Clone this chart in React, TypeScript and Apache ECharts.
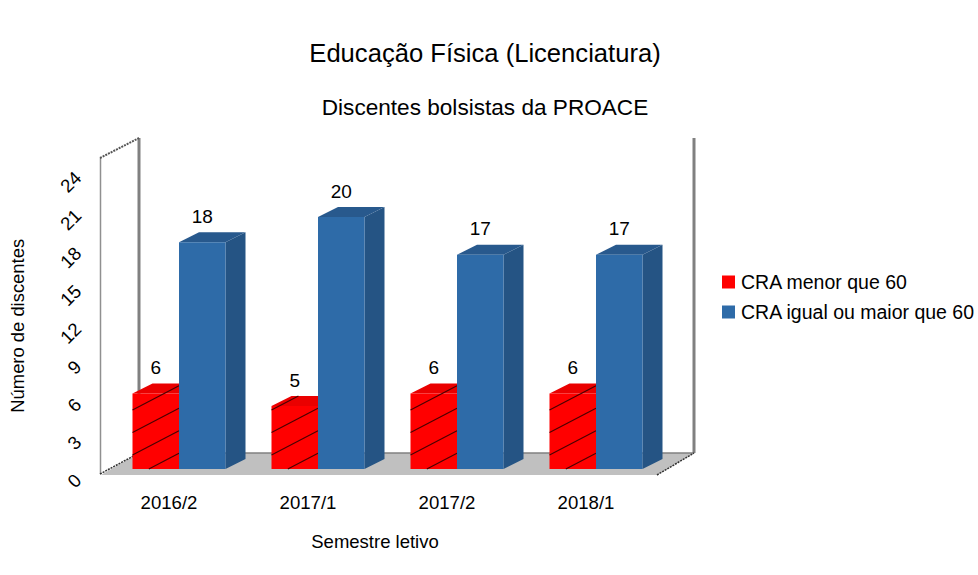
import React, { useEffect, useRef } from "react";
import * as echarts from "echarts";

const titleText = "Educação Física (Licenciatura)";
const subtitleText = "Discentes bolsistas da PROACE";
const categories = ["2016/2", "2017/1", "2017/2", "2018/1"];
const lowSeriesName = "CRA menor que 60";
const highSeriesName = "CRA igual ou maior que 60";
const lowValues = [6, 5, 6, 6];
const highValues = [18, 20, 17, 17];
const yTicks = { min: 0, max: 24, interval: 3 };
const xName = "Semestre letivo";
const yName = "Número de discentes";

const FONT = "Liberation Sans";
const DEPTH_X = 20;
const DEPTH_Y = 10;
const BAR_RATIO = 46.5 / 139;

function hatchLines(x0: number, x1: number, top: number, bottom: number) {
  const slope = 0.52;
  const limit = top - DEPTH_Y;
  const out: any[] = [];
  for (let k = -1; k < 10; k++) {
    const yl = bottom - 14 - 22.5 * k;
    if (yl < top) continue;
    let sx = x0;
    let sy = yl;
    let ex = x1;
    let ey = yl - slope * (x1 - x0);
    if (sy > bottom) {
      sx = x0 + (sy - bottom) / slope;
      sy = bottom;
    }
    if (ey < limit) {
      ex = x0 + (yl - limit) / slope;
      ey = limit;
    }
    out.push({
      type: "line",
      z2: 3,
      shape: { x1: sx, y1: sy, x2: ex, y2: ey },
      style: { stroke: "#4a0000", lineWidth: 1.2, fill: "none" },
      silent: true,
    });
  }
  return out;
}

function makeRender(side: -1 | 1, front: string, sideCol: string, topCol: string, hatch: boolean) {
  return (params: any, api: any) => {
    const i = api.value(0);
    const v = api.value(1);
    const base = api.coord([i, 0]);
    const head = api.coord([i, v]);
    const w = api.size([1, 0])[0] * BAR_RATIO;
    const x0 = side < 0 ? base[0] - w : base[0];
    const x1 = x0 + w;
    const yTop = head[1];
    const yBot = base[1];
    const children: any[] = [
      {
        type: "polygon",
        z2: 1,
        shape: {
          points: [
            [x1, yBot],
            [x1 + DEPTH_X, yBot - DEPTH_Y],
            [x1 + DEPTH_X, yTop - DEPTH_Y],
            [x1, yTop],
          ],
        },
        style: { fill: sideCol },
      },
      {
        type: "polygon",
        z2: 1,
        shape: {
          points: [
            [x0, yTop],
            [x0 + DEPTH_X, yTop - DEPTH_Y],
            [x1 + DEPTH_X, yTop - DEPTH_Y],
            [x1, yTop],
          ],
        },
        style: { fill: topCol },
      },
      {
        type: "rect",
        z2: 2,
        shape: { x: x0, y: yTop, width: w, height: yBot - yTop },
        style: { fill: front },
      },
      {
        type: "text",
        z2: 5,
        x: (x0 + x1) / 2,
        y: yTop - 26,
        style: {
          text: String(v),
          fill: "#000",
          font: `19px "${FONT}"`,
          align: "center",
          verticalAlign: "middle",
        },
      },
    ];
    if (hatch) children.push(...hatchLines(x0, x1, yTop, yBot));
    return { type: "group", children };
  };
}

export default function App() {
  const ref = useRef<HTMLDivElement>(null);
  useEffect(() => {
    const chart = echarts.init(ref.current!, null, { renderer: "svg" });
    chart.setOption({
      animation: false,
      backgroundColor: "#fff",
      textStyle: { fontFamily: FONT },
      title: [
        {
          text: titleText,
          left: 480,
          top: 35,
          textAlign: "center",
          textStyle: { fontFamily: FONT, fontSize: 25.6, fontWeight: "normal", color: "#000" },
        },
        {
          text: subtitleText,
          left: 480,
          top: 91,
          textAlign: "center",
          textStyle: { fontFamily: FONT, fontSize: 22.6, fontWeight: "normal", color: "#000" },
        },
      ],
      legend: {
        orient: "vertical",
        left: 722,
        top: 272,
        padding: 0,
        itemWidth: 13,
        itemHeight: 13,
        itemGap: 10,
        itemStyle: { borderWidth: 0 },
        icon: "rect",
        selectedMode: false,
        data: [lowSeriesName, highSeriesName],
        textStyle: { fontFamily: FONT, fontSize: 19.5, color: "#000", padding: [0, 0, 0, 1] },
      },
      grid: [
        { left: 109.5, width: 556, top: 166.6, height: 302.4 },
        { left: 92, width: 556, top: 174.6, height: 302.4 },
      ],
      xAxis: [
        {
          type: "category",
          gridIndex: 0,
          data: categories,
          axisLine: { show: false },
          axisTick: { show: false },
          axisLabel: {
            fontFamily: FONT,
            fontSize: 18.6,
            color: "#000",
            margin: 24,
            padding: [0, 20, 0, 0],
          },
          name: xName,
          nameLocation: "middle",
          nameGap: 63,
          nameTextStyle: { fontFamily: FONT, fontSize: 18.5, color: "#000", padding: [0, 25, 0, 0] },
        },
        { type: "category", gridIndex: 1, data: categories, show: false },
      ],
      yAxis: [
        { type: "value", gridIndex: 0, min: yTicks.min, max: yTicks.max, interval: yTicks.interval, show: false },
        {
          type: "value",
          gridIndex: 1,
          min: yTicks.min,
          max: yTicks.max,
          interval: yTicks.interval,
          axisLine: { show: false },
          axisTick: { show: false },
          splitLine: { show: false },
          axisLabel: { fontFamily: FONT, fontSize: 18.6, color: "#000", rotate: 45, margin: 22 },
          name: yName,
          nameLocation: "middle",
          nameGap: 74,
          nameTextStyle: { fontFamily: FONT, fontSize: 18.4, color: "#000" },
        },
      ],
      graphic: [
        {
          type: "polygon",
          z: 0,
          shape: { points: [[139, 453], [694, 453], [657, 475], [101, 475]] },
          style: { fill: "#c0c0c0" },
        },
        { type: "line", z: 0, shape: { x1: 139, y1: 138, x2: 139, y2: 453 }, style: { stroke: "#808080", lineWidth: 3 } },
        { type: "line", z: 0, shape: { x1: 694, y1: 138, x2: 694, y2: 453 }, style: { stroke: "#808080", lineWidth: 3 } },
        { type: "line", z: 0, shape: { x1: 139, y1: 453, x2: 694, y2: 453 }, style: { stroke: "#808080", lineWidth: 1.5 } },
        { type: "line", z: 0, shape: { x1: 100.5, y1: 158, x2: 100.5, y2: 474 }, style: { stroke: "#909090", lineWidth: 1.5 } },
        { type: "line", z: 0, shape: { x1: 100, y1: 158, x2: 139, y2: 138 }, style: { stroke: "#555", lineWidth: 2, lineDash: [2, 1] } },
        { type: "line", z: 0, shape: { x1: 100, y1: 474, x2: 139, y2: 453 }, style: { stroke: "#333", lineWidth: 1.5, lineDash: [2, 1] } },
        { type: "line", z: 0, shape: { x1: 657, y1: 475, x2: 694, y2: 453 }, style: { stroke: "#333", lineWidth: 1.5, lineDash: [2, 1] } },
      ],
      series: [
        {
          name: lowSeriesName,
          type: "custom",
          xAxisIndex: 0,
          yAxisIndex: 0,
          coordinateSystem: "cartesian2d",
          itemStyle: { color: "#ff0000" },
          data: lowValues.map((v, i) => [i, v]),
          renderItem: makeRender(-1, "#ff0000", "#cc0000", "#ea0000", true),
          z: 2,
        },
        {
          name: highSeriesName,
          type: "custom",
          xAxisIndex: 0,
          yAxisIndex: 0,
          coordinateSystem: "cartesian2d",
          itemStyle: { color: "#2e6ba8" },
          data: highValues.map((v, i) => [i, v]),
          renderItem: makeRender(1, "#2e6ba8", "#255484", "#28598d", false),
          z: 3,
        },
      ],
    });
    return () => chart.dispose();
  }, []);
  return <div ref={ref} style={{ position: "absolute", left: 0, top: 0, width: 978, height: 575 }} />;
}
